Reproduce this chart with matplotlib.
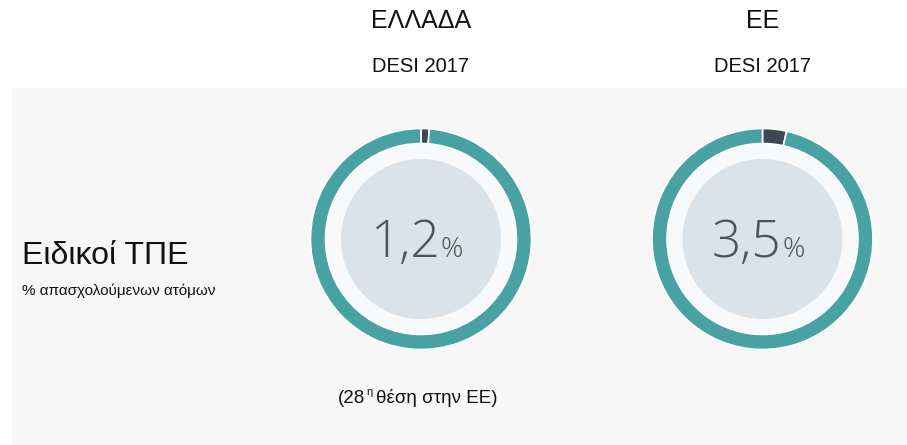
import matplotlib.pyplot as plt
from matplotlib.patches import Rectangle, Circle

# data
regions = ["ΕΛΛΑΔΑ", "ΕΕ"]
subtitles = ["DESI 2017", "DESI 2017"]
values = [1.2, 3.5]
value_labels = ["1,2", "3,5"]
row_title = "Ειδικοί ΤΠΕ"
row_sub = "% απασχολούμενων ατόμων"

W, H = 907, 445
teal = "#48a2a3"
dark = "#3d4854"
ring_bg = "#f7f9fb"
inner = "#d9e3e9"
numcol = "#4b535c"

fig = plt.figure(figsize=(W / 100, H / 100), dpi=100)
fig.patch.set_facecolor("white")


def fx(x):
    return x / W


def fy(y):
    return 1 - y / H


# gray panel
fig.patches.append(Rectangle((fx(12), 0), 1 - fx(12), fy(88), transform=fig.transFigure,
                             facecolor="#f7f7f7", edgecolor="none", zorder=-5))

centers = [421, 762.5]
cy = 239
R = 110.5

for i, (name, sub, v, lab) in enumerate(zip(regions, subtitles, values, value_labels)):
    cx = centers[i]
    ax = fig.add_axes([fx(cx - R), fy(cy + R), 2 * R / W, 2 * R / H], zorder=2)
    ax.add_patch(Circle((0, 0), 0.87, facecolor=ring_bg, edgecolor="none"))
    ax.add_patch(Circle((0, 0), 0.724, facecolor=inner, edgecolor="none"))
    ax.pie([v, 100 - v], colors=[dark, teal], startangle=90, counterclock=False, radius=1,
           wedgeprops=dict(width=0.136, edgecolor="white", linewidth=1.2))
    ax.set_xlim(-1, 1)
    ax.set_ylim(-1, 1)
    ax.set_aspect("equal")
    ax.axis("off")

    fig.text(fx(cx), fy(21), name, ha="center", va="center", fontsize=18,
             family="Liberation Sans", color="#111111")
    fig.text(fx(cx), fy(67), sub, ha="center", va="center", fontsize=14.5,
             family="Liberation Sans", color="#111111")
    fig.text(fx(cx + 19), fy(257), lab, ha="right", va="baseline", fontsize=37,
             family="Open Sans", weight="light", color=numcol, zorder=5)
    fig.text(fx(cx + 20), fy(257), "%", ha="left", va="baseline", fontsize=20,
             family="Open Sans", weight="light", color=numcol, zorder=5)

fig.text(fx(22), fy(256), row_title, ha="left", va="center", fontsize=23,
         family="Liberation Sans", color="#111111")
fig.text(fx(22), fy(291), row_sub, ha="left", va="center", fontsize=11,
         family="Liberation Sans", color="#111111")

# rank note
fig.text(fx(365), fy(403), "(28", ha="right", va="baseline", fontsize=13.5,
         family="Liberation Sans", color="#111111")
fig.text(fx(366), fy(395), "η", ha="left", va="baseline", fontsize=8,
         family="Liberation Sans", color="#111111")
fig.text(fx(376), fy(403), "θέση στην ΕΕ)", ha="left", va="baseline", fontsize=13.5,
         family="Liberation Sans", color="#111111")

fig.savefig("out.png", dpi=100)
